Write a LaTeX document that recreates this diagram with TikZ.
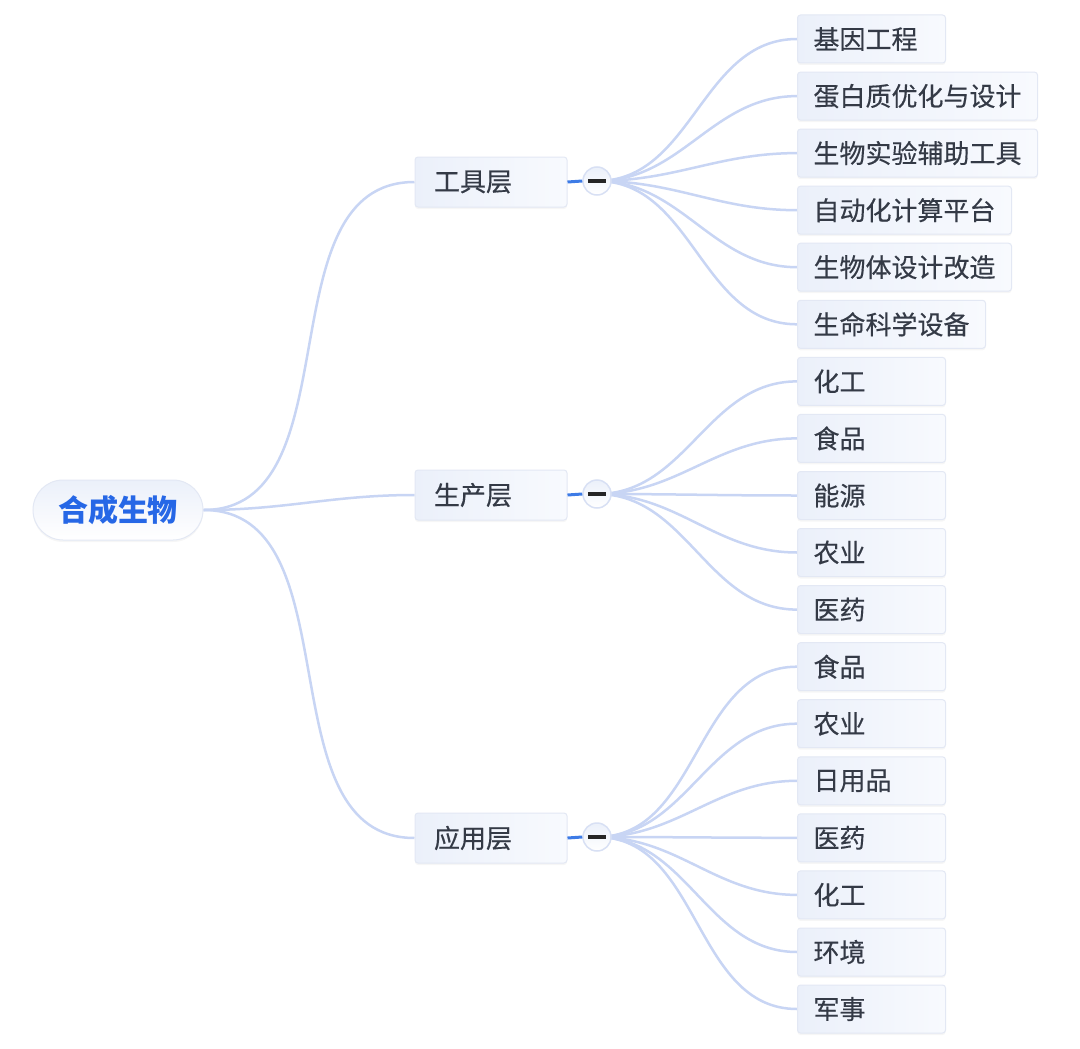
\documentclass[tikz,border=0pt]{standalone}
\usepackage{fontspec}
\setmainfont{Noto Sans CJK SC}
\newfontfamily\medfont{Noto Sans CJK SC}[FakeBold=0.35]
\usetikzlibrary{shadows,backgrounds}

\definecolor{linkblue}{HTML}{C8D5F4}
\definecolor{stubblue}{HTML}{3D7BE6}
\definecolor{boxleft}{HTML}{EBF0FA}
\definecolor{boxright}{HTML}{F8FAFE}
\definecolor{boxline}{HTML}{E3E8F4}
\definecolor{inkgray}{HTML}{343A46}
\definecolor{rootblue}{HTML}{2667E6}

\tikzset{
  box/.style={draw=boxline, line width=1pt, left color=boxleft, right color=boxright,
    rounded corners=3pt, minimum height=48pt, inner xsep=16pt, inner ysep=0pt,
    text=inkgray, font=\medfont\fontsize{26}{31}\selectfont,
    drop shadow={opacity=0.07, shadow xshift=0pt, shadow yshift=-2pt}},
  leaf/.style={box, text width=116pt, align=left, anchor=west},
  wideleaf/.style={box, anchor=west},
  layer/.style={box, minimum height=50pt, inner xsep=19pt, text width=114pt, align=left},
  rootbox/.style={box, rounded corners=30pt, minimum height=60pt, minimum width=170pt,
    inner xsep=18pt, top color=boxleft, bottom color=white,
    text=rootblue, font=\fontsize{30}{36}\selectfont\bfseries},
  toggle/.style={circle, draw=boxline!60!linkblue, line width=1.5pt, minimum size=28pt,
    inner sep=0pt, top color=boxleft, bottom color=white, text=black!85},
  branch/.style={linkblue, line width=2.5pt, out=0, in=180},
  stub/.style={stubblue, line width=3pt},
}

\begin{document}
\begin{tikzpicture}[x=1pt, y=-1pt]
  \useasboundingbox (0,0) rectangle (1080,1049);

  % root
  \node[rootbox] (root) at (118,510) {合成生物};

  % layers and their toggles
  \node[layer] (tool) at (491,182) {工具层};
  \node[layer] (prod) at (491,495) {生产层};
  \node[layer] (appl) at (491,838) {应用层};
  \node[toggle] (tooltg) at (597,181) {\rule{18pt}{4pt}};
  \node[toggle] (prodtg) at (597,494) {\rule{18pt}{4pt}};
  \node[toggle] (appltg) at (597,837) {\rule{18pt}{4pt}};

  % tool layer leaves
  \node[leaf]     (t1) at (797,39)    {基因工程};
  \node[wideleaf] (t2) at (797,96.1)  {蛋白质优化与设计};
  \node[wideleaf] (t3) at (797,153.1) {生物实验辅助工具};
  \node[wideleaf] (t4) at (797,210.2) {自动化计算平台};
  \node[wideleaf] (t5) at (797,267.2) {生物体设计改造};
  \node[wideleaf] (t6) at (797,324.3) {生命科学设备};

  % production layer leaves
  \node[leaf] (p1) at (797,381.4) {化工};
  \node[leaf] (p2) at (797,438.4) {食品};
  \node[leaf] (p3) at (797,495.5) {能源};
  \node[leaf] (p4) at (797,552.5) {农业};
  \node[leaf] (p5) at (797,609.6) {医药};

  % application layer leaves
  \node[leaf] (a1) at (797,666.7)  {食品};
  \node[leaf] (a2) at (797,723.7)  {农业};
  \node[leaf] (a3) at (797,780.8)  {日用品};
  \node[leaf] (a4) at (797,837.8)  {医药};
  \node[leaf] (a5) at (797,894.9)  {化工};
  \node[leaf] (a6) at (797,952.0)  {环境};
  \node[leaf] (a7) at (797,1009.0) {军事};

  \begin{scope}[on background layer]
    \fill[white] (0,0) rectangle (1080,1049);

    % root to layers
    \draw[branch] (root.east) to (tool.west);
    \draw[branch] (root.east) to (prod.west);
    \draw[branch] (root.east) to (appl.west);

    % toggles to leaves
    \draw[branch] (tooltg.center) to (t1.west);
    \draw[branch] (tooltg.center) to (t2.west);
    \draw[branch] (tooltg.center) to (t3.west);
    \draw[branch] (tooltg.center) to (t4.west);
    \draw[branch] (tooltg.center) to (t5.west);
    \draw[branch] (tooltg.center) to (t6.west);

    \draw[branch] (prodtg.center) to (p1.west);
    \draw[branch] (prodtg.center) to (p2.west);
    \draw[branch] (prodtg.center) to (p3.west);
    \draw[branch] (prodtg.center) to (p4.west);
    \draw[branch] (prodtg.center) to (p5.west);

    \draw[branch] (appltg.center) to (a1.west);
    \draw[branch] (appltg.center) to (a2.west);
    \draw[branch] (appltg.center) to (a3.west);
    \draw[branch] (appltg.center) to (a4.west);
    \draw[branch] (appltg.center) to (a5.west);
    \draw[branch] (appltg.center) to (a6.west);
    \draw[branch] (appltg.center) to (a7.west);
  \end{scope}

  % short stubs from layers to toggles
  \draw[stub] (tool.east) -- (tooltg.west);
  \draw[stub] (prod.east) -- (prodtg.west);
  \draw[stub] (appl.east) -- (appltg.west);
\end{tikzpicture}
\end{document}
